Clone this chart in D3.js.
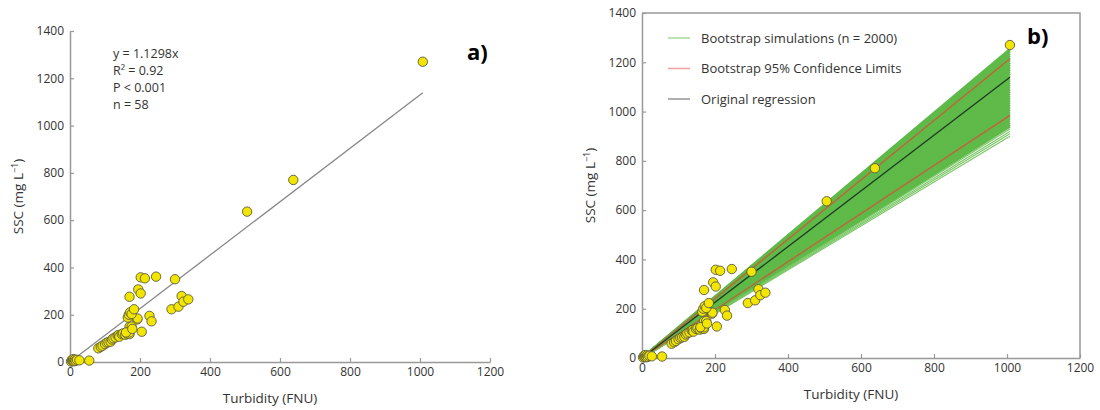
<!DOCTYPE html>
<html>
<head>
<meta charset="utf-8">
<script src="https://cdn.jsdelivr.net/npm/d3@7"></script>
<style>
  body { margin: 0; background: #fff; }
  svg text { font-family: "Open Sans", "Noto Sans", sans-serif; fill: #333; }
</style>
</head>
<body>
<div id="chart"></div>
<script>

// Turbidity (FNU) and SSC (mg/L) samples
let turbidity = [3, 5, 7, 9, 10, 12, 14, 16, 20, 27,
	55, 81, 88, 93, 100, 105, 110, 116, 120, 124,
	130, 136, 139, 141, 148, 152, 158, 163, 170, 170,
	170, 205, 192, 193, 165, 168, 172, 176, 183, 170,
	195, 202, 202, 214, 246, 300, 227, 233, 290, 310,
	319, 324, 338, 176, 160, 178, 506, 638, 1008];
let ssc = [2, 8, 4, 12, 6, 3, 10, 5, 9, 7,
	6, 58, 64, 69, 76, 82, 84, 86, 95, 100,
	104, 112, 114, 107, 118, 121, 115, 120, 118, 149,
	125, 128, 180, 184, 188, 200, 210, 203, 223, 276,
	307, 290, 358, 354, 361, 350, 195, 172, 223, 234,
	279, 255, 265, 150, 125, 140, 636, 770, 1270];

let xTicks = [0, 200, 400, 600, 800, 1000, 1200];
let yTicks = [0, 200, 400, 600, 800, 1000, 1200, 1400];

let regSlope = 1.1298;
let statsLines = ["y = 1.1298x", "R² = 0.92", "P < 0.001", "n = 58"];

// bootstrap slopes (band of green lines) and the 95% limits
let bootSlopes = [1.243, 1.235, 1.226, 1.218, 1.209, 1.2, 1.19, 1.181, 1.172, 1.163,
	1.154, 1.145, 1.136, 1.127, 1.118, 1.109, 1.1, 1.091, 1.082, 1.073,
	1.064, 1.055, 1.046, 1.037, 1.028, 1.019, 1.01, 1.001, 0.992, 0.983,
	0.974, 0.965, 0.956, 0.947, 0.938, 0.932];
let bootStrays = [0.922, 0.912, 0.903, 0.893];
let ciSlopes = [1.205, 0.977];
let legendLabels = ["Bootstrap simulations (n = 2000)", "Bootstrap 95% Confidence Limits", "Original regression"];
let legendColors = ["#a9dc9c", "#f2a3a3", "#9c9c9c"];

let xMax = 1008;

let svg = d3.select("#chart")
	.append("svg")
	.attr("width", 1100)
	.attr("height", 410);

function drawAxes(x, y, boxed) {
	let [x0, x1] = x.range();
	let [y0, y1] = y.range();

	let gx = svg.append("g")
		.attr("transform", `translate(0, ${y0})`)
		.call(d3.axisBottom(x).tickValues(xTicks).tickFormat(d3.format("d"))
			.tickSize(-4).tickPadding(5).tickSizeOuter(0));
	let gy = svg.append("g")
		.attr("transform", `translate(${x0}, 0)`)
		.call(d3.axisLeft(y).tickValues(yTicks).tickFormat(d3.format("d"))
			.tickSize(-4).tickPadding(6).tickSizeOuter(0));

	[gx, gy].forEach(g => {
		g.selectAll("path").attr("stroke", "#999").attr("stroke-width", 1.5);
		g.selectAll("line").attr("stroke", "#999").attr("stroke-width", 1.2);
		g.selectAll("text").attr("font-size", 12).style("fill", "#333");
	});

	if (boxed) {
		svg.append("path")
			.attr("d", `M${x0},${y1}H${x1}V${y0}`)
			.attr("fill", "none")
			.attr("stroke", "#999")
			.attr("stroke-width", 1.5);
	}

	svg.append("text")
		.attr("x", (x0 + x1) / 2 - 10)
		.attr("y", y0 + 41)
		.attr("text-anchor", "middle")
		.attr("font-size", 13.5)
		.text("Turbidity (FNU)");

	let ylab = svg.append("text")
		.attr("transform", `translate(${x0 - 47}, ${(y0 + y1) / 2}) rotate(-90)`)
		.attr("text-anchor", "middle")
		.attr("font-size", 13.5)
		.text("SSC (mg L");
	ylab.append("tspan").attr("dy", -5).attr("font-size", 9).text("−1");
	ylab.append("tspan").attr("dy", 5).text(")");
}

function drawPoints(x, y) {
	svg.append("g")
		.selectAll("circle")
		.data(turbidity.map((t, i) => [t, ssc[i]]))
		.join("circle")
		.attr("cx", d => x(d[0]))
		.attr("cy", d => y(d[1]))
		.attr("r", 4.7)
		.attr("fill", "#f2e600")
		.attr("stroke", "#5a5a40")
		.attr("stroke-width", 0.9);
}

function slopeLine(g, x, y, s, color, width) {
	g.append("line")
		.attr("x1", x(0)).attr("y1", y(0))
		.attr("x2", x(xMax)).attr("y2", y(s * xMax))
		.attr("stroke", color)
		.attr("stroke-width", width);
}

// ---- panel a
let xA = d3.scaleLinear().domain([0, 1200]).range([70, 490]);
let yA = d3.scaleLinear().domain([0, 1400]).range([362, 31]);
drawAxes(xA, yA, false);

slopeLine(svg, xA, yA, regSlope, "#888", 1.3);
drawPoints(xA, yA);

svg.append("g")
	.selectAll("text")
	.data(statsLines)
	.join("text")
	.attr("x", 113)
	.attr("y", (d, i) => 58 + i * 17)
	.attr("font-size", 12.5)
	.text(d => d);

svg.append("text")
	.attr("x", 467).attr("y", 60)
	.attr("font-size", 22).attr("font-weight", "bold")
	.style("fill", "#000")
	.text("a)");

// ---- panel b
let xB = d3.scaleLinear().domain([0, 1200]).range([642, 1080]);
let yB = d3.scaleLinear().domain([0, 1400]).range([358, 13]);
drawAxes(xB, yB, true);

let band = svg.append("g");
bootSlopes.forEach(s => slopeLine(band, xB, yB, s, "#5fba49", 2.6));
bootStrays.forEach(s => slopeLine(band, xB, yB, s, "#78c664", 1.1));
ciSlopes.forEach(s => slopeLine(band, xB, yB, s, "#c0643a", 1.4));
slopeLine(band, xB, yB, regSlope, "#1f3a1f", 1.3);

drawPoints(xB, yB);

let legend = svg.append("g")
	.selectAll("g")
	.data(legendLabels)
	.join("g")
	.attr("transform", (d, i) => `translate(668, ${38 + i * 30.5})`);
legend.append("line")
	.attr("x1", 0).attr("x2", 22)
	.attr("stroke", (d, i) => legendColors[i])
	.attr("stroke-width", 1.6);
legend.append("text")
	.attr("x", 33).attr("y", 4.5)
	.attr("font-size", 13)
	.text(d => d);

svg.append("text")
	.attr("x", 1027).attr("y", 44)
	.attr("font-size", 22).attr("font-weight", "bold")
	.style("fill", "#000")
	.text("b)");

</script>
</body>
</html>
